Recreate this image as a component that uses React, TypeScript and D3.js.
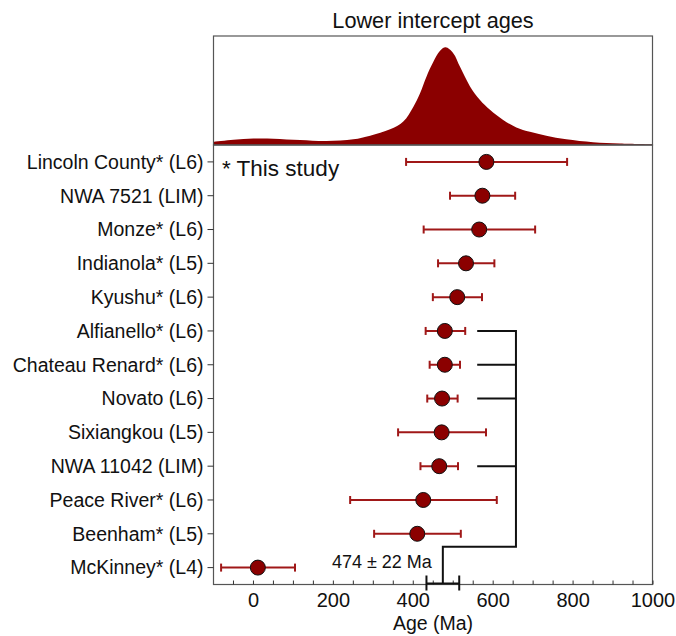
import React from "react";
import * as d3 from "d3";

const sampleLabels = [
  "Lincoln County* (L6)",
  "NWA 7521 (LIM)",
  "Monze* (L6)",
  "Indianola* (L5)",
  "Kyushu* (L6)",
  "Alfianello* (L6)",
  "Chateau Renard* (L6)",
  "Novato (L6)",
  "Sixiangkou (L5)",
  "NWA 11042 (LIM)",
  "Peace River* (L6)",
  "Beenham* (L5)",
  "McKinney* (L4)",
];
const ages = [583, 573, 565, 532, 510, 479, 479, 472, 471, 465, 425, 410, 11];
const ageLow = [382, 492, 426, 462, 449, 431, 441, 435, 362, 418, 242, 302, -81];
const ageHigh = [785, 655, 705, 603, 572, 530, 517, 511, 582, 512, 609, 519, 104];

const groupedLabels = ["Alfianello* (L6)", "Chateau Renard* (L6)", "Novato (L6)", "NWA 11042 (LIM)"];
const weightedMean = 474;
const weightedLow = 433;
const weightedHigh = 515;
const weightedText = "474 ± 22 Ma";

const densityAges = [-100, -50, 0, 50, 117, 183, 250, 292, 342, 375, 400, 417, 433, 450, 467, 481, 500, 517, 542, 567, 592, 625, 658, 692, 733, 783, 850, 917, 1000];
const densityValues = [0.034, 0.055, 0.066, 0.065, 0.051, 0.041, 0.058, 0.095, 0.16, 0.24, 0.39, 0.53, 0.70, 0.85, 0.965, 1.0, 0.94, 0.80, 0.60, 0.46, 0.36, 0.256, 0.18, 0.135, 0.095, 0.058, 0.028, 0.015, 0.007];

const xTicks = [0, 200, 400, 600, 800, 1000];

const W = 676, H = 636;
const L = 213.5, R = 652.5;
const mainTop = 145, mainBottom = 584.5;
const denTop = 36;
const FONT = "'Liberation Sans', Arial, Helvetica, sans-serif";
const RED = "#8b0000";
const ERR = "#a01818";
const FRAME = "#555";

export default function App() {
  const x = d3.scaleLinear().domain([-100, 1000]).range([L, R + 0.5]);
  const y = d3.scalePoint<string>().domain(sampleLabels).range([mainTop, mainBottom]).padding(0.5);
  const yd = d3.scaleLinear().domain([0, 1.116]).range([mainTop, denTop]);

  const area = d3
    .area<number>()
    .x((_, i) => x(densityAges[i]))
    .y0(mainTop)
    .y1((d) => yd(d))
    .curve(d3.curveCatmullRom.alpha(0.5));

  const minorTicks = d3.range(-50, 1001, 50);
  const groupYs = groupedLabels.map((l) => y(l) as number);
  const spineX = x(657);
  const stubX = x(560);
  const joinY = (y("Beenham* (L5)") as number) + 13;
  const meanX = x(weightedMean);
  const capH = 4;

  return (
    <svg width={W} height={H} style={{ position: "absolute", left: 0, top: 0 }} fontFamily={FONT}>
      <rect width={W} height={H} fill="#fff" />
      {/* title */}
      <text x={(L + R) / 2} y={28} textAnchor="middle" fontSize={21.7} fill="#111">
        Lower intercept ages
      </text>
      {/* density */}
      <path d={area(densityValues) || ""} fill={RED} />
      <rect x={L} y={denTop} width={R - L} height={mainTop - denTop} fill="none" stroke={FRAME} strokeWidth={1.2} />

      {/* main frame */}
      <rect x={L} y={mainTop} width={R - L} height={mainBottom - mainTop} fill="none" stroke={FRAME} strokeWidth={1.2} />

      {/* x ticks inward */}
      {minorTicks.map((t) => (
        <line key={t} x1={x(t)} x2={x(t)} y1={mainBottom} y2={mainBottom - 4} stroke="#333" strokeWidth={1} />
      ))}
      {xTicks.map((t) => (
        <text key={t} x={x(t)} y={607} textAnchor="middle" fontSize={20} fill="#111">
          {t}
        </text>
      ))}
      <text x={(L + R) / 2} y={630} textAnchor="middle" fontSize={19.5} fill="#111">
        Age (Ma)
      </text>

      {/* y labels and ticks */}
      {sampleLabels.map((l) => (
        <g key={l}>
          <line x1={L - 6} x2={L} y1={y(l)} y2={y(l)} stroke="#333" strokeWidth={1} />
          <text x={L - 10} y={(y(l) as number) + 6.8} textAnchor="end" fontSize={19.5} fill="#111">
            {l}
          </text>
        </g>
      ))}

      {/* bracket */}
      <g stroke="#111" strokeWidth={2} fill="none">
        {groupYs.map((gy, i) => (
          <line key={i} x1={stubX} x2={spineX} y1={gy} y2={gy} />
        ))}
        <polyline points={`${spineX},${groupYs[0] - 1} ${spineX},${joinY} ${meanX},${joinY} ${meanX},${mainBottom - 1}`} />
        <line x1={x(weightedLow)} x2={x(weightedHigh)} y1={mainBottom - 1} y2={mainBottom - 1} />
        <line x1={x(weightedLow)} x2={x(weightedLow)} y1={mainBottom - 9} y2={mainBottom + 6} />
        <line x1={x(weightedHigh)} x2={x(weightedHigh)} y1={mainBottom - 9} y2={mainBottom + 6} />
      </g>
      <text x={meanX - 11} y={joinY + 21} textAnchor="end" fontSize={18} fill="#111">
        {weightedText}
      </text>

      {/* error bars and points */}
      {sampleLabels.map((l, i) => {
        const cy = y(l) as number;
        return (
          <g key={l}>
            <line x1={x(ageLow[i])} x2={x(ageHigh[i])} y1={cy} y2={cy} stroke={ERR} strokeWidth={2} />
            <line x1={x(ageLow[i])} x2={x(ageLow[i])} y1={cy - capH} y2={cy + capH} stroke={ERR} strokeWidth={2} />
            <line x1={x(ageHigh[i])} x2={x(ageHigh[i])} y1={cy - capH} y2={cy + capH} stroke={ERR} strokeWidth={2} />
            <circle cx={x(ages[i])} cy={cy} r={7.5} fill={RED} stroke="#111" strokeWidth={1} />
          </g>
        );
      })}

      <text x={222} y={176} fontSize={22.5} fill="#111">
        * This study
      </text>
    </svg>
  );
}
